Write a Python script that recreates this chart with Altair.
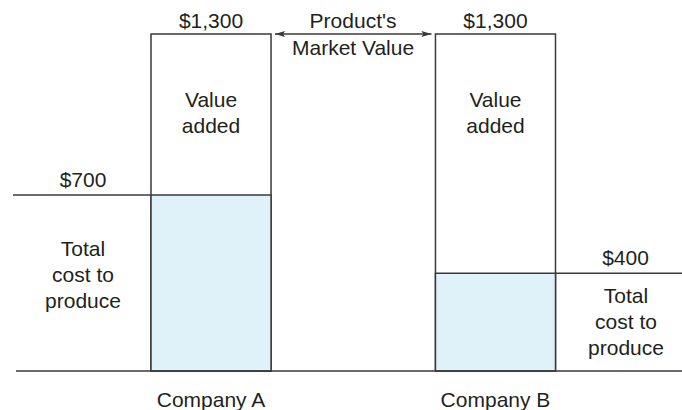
import altair as alt
import pandas as pd

# ---- data ----
companies = ["Company A", "Company B"]
market_value = [1300, 1300]
total_cost = [700, 400]
value_label = ["Value", "added"]
cost_label = ["Total", "cost to", "produce"]
arrow_label = ["Product's", "Market Value"]

df = pd.DataFrame({"company": companies, "market": market_value, "cost": total_cost})

FONT = "Liberation Sans"
FS = 21
TXT = "#231f20"
LINE = "#3a3a3a"

xscale = alt.Scale(domain=companies, range=[151, 555.5], paddingInner=0.578, paddingOuter=0)
yscale = alt.Scale(type="pow", exponent=1.05, domain=[0, 1300], nice=False, zero=True)
xaxis = alt.Axis(title=None, domain=False, ticks=False, labelPadding=35,
                 labelBaseline="alphabetic", labelFontSize=FS, labelFont=FONT,
                 labelColor=TXT, labelAngle=0, grid=False)


def xenc(bp=None):
    if bp is None:
        return alt.X("company:N", scale=xscale, axis=xaxis)
    return alt.X("company:N", scale=xscale, axis=xaxis, bandPosition=bp)


def yenc(field):
    return alt.Y(f"{field}:Q", scale=yscale, axis=None)


def band_start(name):
    return "scale('x', '%s')" % name


base = alt.Chart(df)
a_only = base.transform_filter(alt.datum.company == companies[0])
b_only = base.transform_filter(alt.datum.company == companies[1])

value_bar = base.mark_bar(fill="white", stroke=LINE, strokeWidth=1.5).encode(
    x=xenc(), y=yenc("market"))
cost_bar = base.mark_bar(fill="#dff1f9", stroke=LINE, strokeWidth=1.5).encode(
    x=xenc(), y=yenc("cost"))

rule_a = a_only.mark_rule(color=LINE, strokeWidth=1.5).encode(
    x=alt.value(13), x2=alt.value({"expr": band_start(companies[0])}), y=yenc("cost"))
rule_b = b_only.mark_rule(color=LINE, strokeWidth=1.5).encode(
    x=alt.value({"expr": band_start(companies[1]) + " + bandwidth('x')"}),
    x2=alt.value({"expr": "width"}), y=yenc("cost"))
baseline = a_only.mark_rule(color=LINE, strokeWidth=1.5).encode(
    x=alt.value(16), x2=alt.value({"expr": "width"}), y=alt.value({"expr": "scale('y', 0)"}))

# arrow between the two bars at the market value
arrow_line = a_only.mark_rule(color=LINE, strokeWidth=1.3).encode(
    x=alt.value({"expr": band_start(companies[0]) + " + bandwidth('x') + 4"}),
    x2=alt.value({"expr": band_start(companies[1]) + " - 4"}), y=yenc("market"))
head_l = a_only.mark_point(shape="M -1 0 L 1 -0.6 L 0.6 0 L 1 0.6 Z", filled=True, fill=LINE,
                           strokeWidth=0, size=100, opacity=1, xOffset=9).encode(
    x=xenc(bp=1), y=yenc("market"))
head_r = b_only.mark_point(shape="M 1 0 L -1 -0.6 L -0.6 0 L -1 0.6 Z", filled=True, fill=LINE,
                           strokeWidth=0, size=100, opacity=1, xOffset=-9).encode(
    x=xenc(bp=0), y=yenc("market"))
arrow_text = a_only.mark_text(text=arrow_label, font=FONT, fontSize=FS, color=TXT,
                              baseline="alphabetic", lineHeight=27, dx=82, dy=-6).encode(
    x=xenc(bp=1), y=yenc("market"))

market_text = base.mark_text(font=FONT, fontSize=FS, color=TXT, baseline="alphabetic", dy=-6).encode(
    x=xenc(bp=0.5), y=yenc("market"), text=alt.Text("market:Q", format="$,.0f"))
value_text = base.mark_text(text=value_label, font=FONT, fontSize=FS, color=TXT,
                            baseline="alphabetic", lineHeight=26, dy=73).encode(
    x=xenc(bp=0.5), y=yenc("market"))

cost_val_a = a_only.mark_text(font=FONT, fontSize=FS, color=TXT, baseline="alphabetic", dx=-68, dy=-8.5).encode(
    x=xenc(bp=0), y=yenc("cost"), text=alt.Text("cost:Q", format="$,.0f"))
cost_val_b = b_only.mark_text(font=FONT, fontSize=FS, color=TXT, baseline="alphabetic", dx=70, dy=-8.5).encode(
    x=xenc(bp=1), y=yenc("cost"), text=alt.Text("cost:Q", format="$,.0f"))
cost_txt_a = a_only.mark_text(text=cost_label, font=FONT, fontSize=FS, color=TXT, baseline="alphabetic",
                              lineHeight=26, dx=-68, dy=61).encode(x=xenc(bp=0), y=yenc("cost"))
cost_txt_b = b_only.mark_text(text=cost_label, font=FONT, fontSize=FS, color=TXT, baseline="alphabetic",
                              lineHeight=26, dx=70.5, dy=30).encode(x=xenc(bp=1), y=yenc("cost"))

chart = alt.layer(
    rule_a, rule_b, value_bar, cost_bar, baseline,
    arrow_line, head_l, head_r, arrow_text,
    market_text, value_text, cost_val_a, cost_val_b, cost_txt_a, cost_txt_b,
).properties(
    width=682, height=337,
    padding={"left": 0, "right": 0, "top": 34, "bottom": 39},
    autosize="none", background="white",
).configure_view(strokeWidth=0)

chart.save("out.html", embed_options={"renderer": "svg", "actions": False})
